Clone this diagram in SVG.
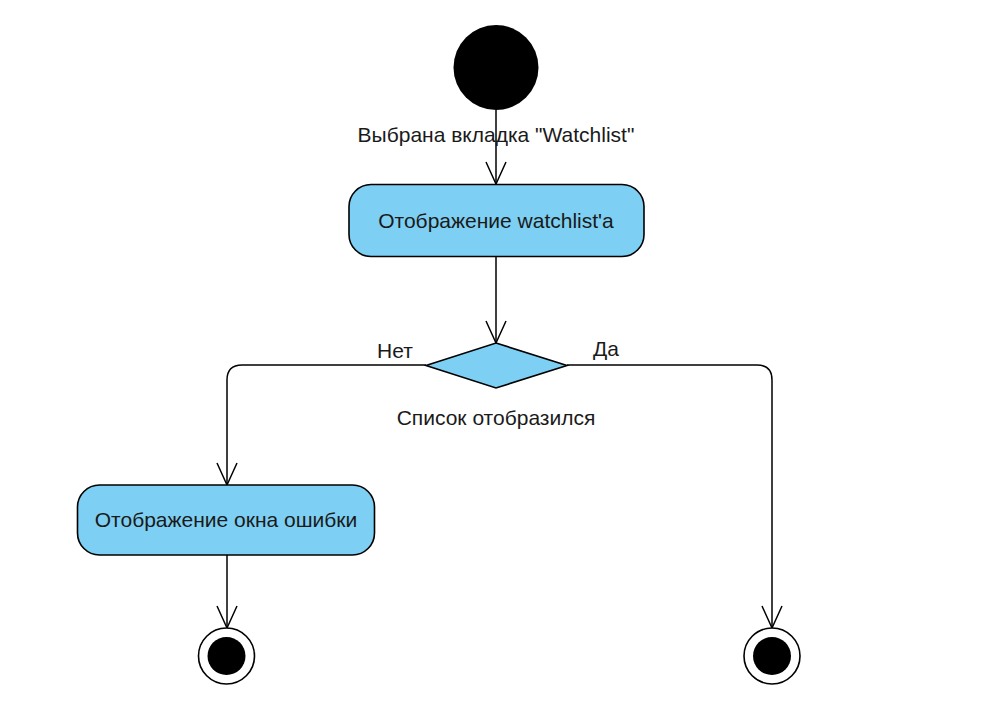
<svg xmlns="http://www.w3.org/2000/svg" width="983" height="726" viewBox="0 0 983 726">
<style>
.lbl{font-family:"Liberation Sans",Arial,sans-serif;font-size:21px;fill:#1a1a1a;text-anchor:middle;dominant-baseline:central}
.act{fill:#7dd0f3;stroke:#000;stroke-width:1.6}
.edge{fill:none;stroke:#000;stroke-width:1.5}
.head{fill:none;stroke:#000;stroke-width:1.5}
</style>
<rect width="983" height="726" fill="#fff"/>
<g id="connectors">
  <path class="edge" d="M496 110 V184"/>
  <path class="head" d="M486 162 L496 184 L506 162"/>
  <path class="edge" d="M496 257 V343"/>
  <path class="head" d="M486 321 L496 343 L506 321"/>
  <path class="edge" d="M426 365 H242 Q227 365 227 380 V485"/>
  <path class="head" d="M217 463 L227 485 L237 463"/>
  <path class="edge" d="M567 365 H757 Q772 365 772 380 V628"/>
  <path class="head" d="M762 606 L772 628 L782 606"/>
  <path class="edge" d="M227 555 V628"/>
  <path class="head" d="M217 606 L227 628 L237 606"/>
  <text class="lbl" x="496" y="134">Выбрана вкладка "Watchlist"</text>
  <text class="lbl" x="395" y="350">Нет</text>
  <text class="lbl" x="606" y="348">Да</text>
</g>
<g id="start">
  <circle cx="496" cy="67.5" r="42.5" fill="#000"/>
</g>
<g id="show-watchlist">
  <rect class="act" x="349" y="184.5" width="295" height="72" rx="22"/>
  <text class="lbl" x="496" y="220">Отображение watchlist'a</text>
</g>
<g id="decision">
  <polygon class="act" points="496,343 567,365.5 496,388 426,365.5"/>
  <text class="lbl" x="496" y="417">Список отобразился</text>
</g>
<g id="error-window">
  <rect class="act" x="77.5" y="485" width="297" height="70" rx="22"/>
  <text class="lbl" x="226" y="519">Отображение окна ошибки</text>
</g>
<g id="end-left">
  <circle cx="226.5" cy="656" r="28" fill="#fff" stroke="#000" stroke-width="1.6"/>
  <circle cx="226.5" cy="656" r="19" fill="#000"/>
</g>
<g id="end-right">
  <circle cx="772" cy="656" r="28" fill="#fff" stroke="#000" stroke-width="1.6"/>
  <circle cx="772" cy="656" r="19" fill="#000"/>
</g>
</svg>
